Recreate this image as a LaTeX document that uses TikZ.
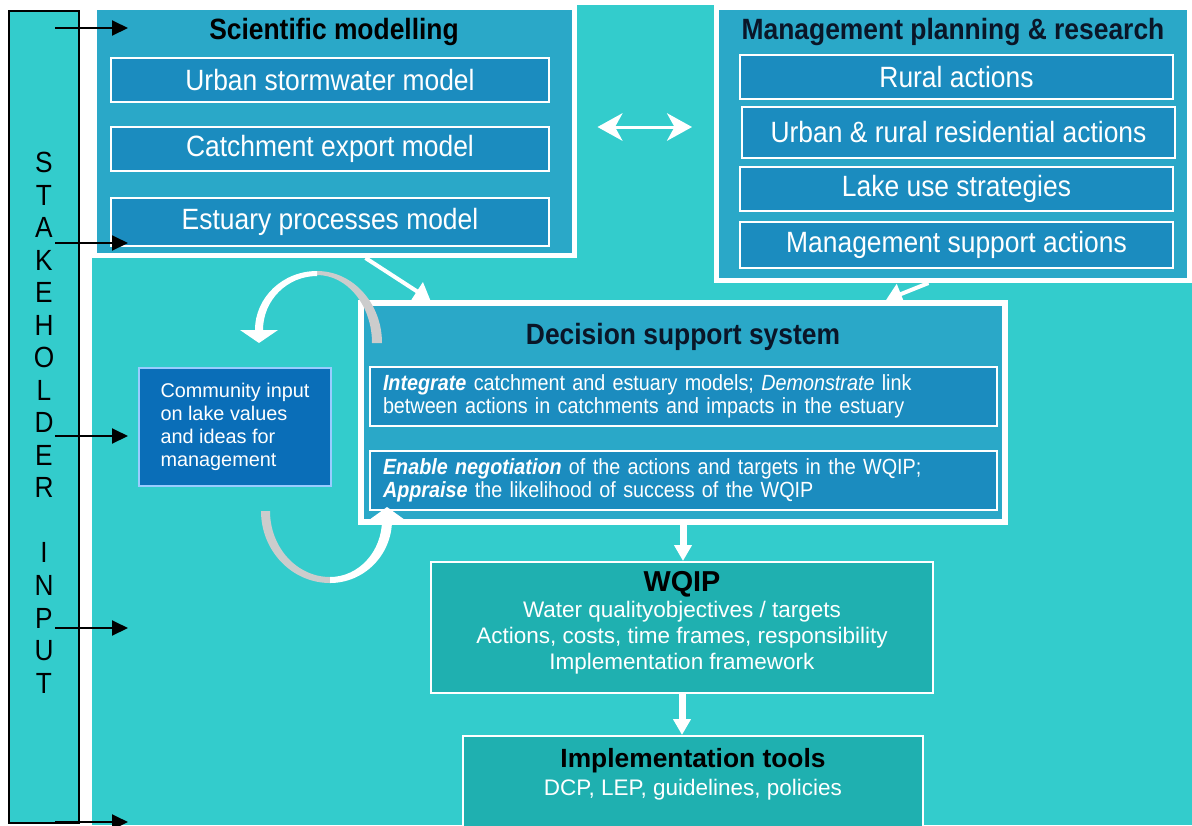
\documentclass[tikz,border=0pt]{standalone}
\usepackage{fontspec}
\setmainfont{Liberation Sans}
\newfontfamily\narrowsans[FakeStretch=0.9]{Liberation Sans}
\usepackage{tikz}
\usetikzlibrary{positioning,arrows.meta}

\definecolor{lagoon}{HTML}{33CCCC}
\definecolor{panelblue}{HTML}{2AA8C8}
\definecolor{tileblue}{HTML}{1B8CBF}
\definecolor{commblue}{HTML}{0A6EB8}
\definecolor{commedge}{HTML}{99CCFF}
\definecolor{planteal}{HTML}{1FB0B0}
\definecolor{titlenavy}{HTML}{0A1628}
\definecolor{ribbongray}{HTML}{CCCCCC}

\begin{document}
\begin{tikzpicture}[
		panel/.style={draw=white,line width=0.1cm,fill=panelblue,inner sep=0pt},
		tile/.style={draw=white,line width=0.035cm,fill=tileblue,text=white,inner sep=0pt,font=\narrowsans\fontsize{16.7}{20}\selectfont},
		note/.style={tile,align=left,text width=12.02cm,inner xsep=0.26cm,minimum height=1.18cm,font=\narrowsans\fontsize{12.5}{13}\selectfont},
		heading/.style={inner sep=0pt,text=titlenavy,font=\narrowsans\bfseries\fontsize{16.7}{20}\selectfont},
		plan/.style={draw=white,line width=0.04cm,fill=planteal,inner sep=0pt},
		plantext/.style={inner sep=0pt,align=center,text=white,font=\fontsize{12.8}{14.7}\selectfont},
		whitearrow/.style={draw=white,line width=0.08cm,-{Triangle[length=0.32cm,width=0.42cm]}},
		downarrow/.style={draw=white,line width=0.14cm,-{Triangle[length=0.32cm,width=0.34cm]}},
		swaparrow/.style={draw=white,line width=0.06cm,{Stealth[length=0.5cm,width=0.55cm,inset=0.15cm]}-{Stealth[length=0.5cm,width=0.55cm,inset=0.15cm]}},
		inputarrow/.style={draw=black,line width=0.04cm,-{Triangle[length=0.32cm,width=0.3cm]}}
	]
	\useasboundingbox (0,0) rectangle (23.84,-16.5);
	\clip (0,0) rectangle (23.84,-16.5);
	\fill[white] (0,0) rectangle (23.84,-16.5);
	\fill[lagoon] (1.84,-0.1) rectangle (23.84,-16.5);

	\node[draw=black,line width=0.04cm,fill=lagoon,minimum width=1.4cm,minimum height=16.24cm,inner sep=0pt] (stake) at (0.88,-8.34) {};
	\node[inner sep=0pt,align=center,font=\narrowsans\fontsize{16.6}{18.5}\selectfont] (stakelabel) at (0.88,-8.455)
		{S\\T\\A\\K\\E\\H\\O\\L\\D\\E\\R\\\mbox{}\\I\\N\\P\\U\\T};

	\node[panel,minimum width=9.6cm,minimum height=4.96cm] (sci) at (6.68,-2.63) {};
	\node[heading,text=black,below=0.25cm of sci.north] (scititle) {Scientific modelling};
	\node[tile,minimum width=8.76cm,minimum height=0.88cm] (urban) at (6.6,-1.6) {Urban stormwater model};
	\node[tile,minimum width=8.76cm,minimum height=0.88cm] (catch) at (6.6,-2.98) {Catchment export model};
	\node[tile,minimum width=8.76cm,minimum height=0.96cm] (estuary) at (6.6,-4.44) {Estuary processes model};

	\node[panel,minimum width=9.46cm,minimum height=5.46cm] (mgmt) at (19.06,-2.88) {};
	\node[heading,below=0.25cm of mgmt.north] (mgmttitle) {Management planning \& research};
	\node[tile,minimum width=8.66cm,minimum height=0.88cm] (rural) at (19.13,-1.54) {Rural actions};
	\node[tile,minimum width=8.66cm,minimum height=1.02cm] (resid) at (19.17,-2.65) {Urban \& rural residential actions};
	\node[tile,minimum width=8.66cm,minimum height=0.88cm] (lakeuse) at (19.13,-3.78) {Lake use strategies};
	\node[tile,minimum width=8.66cm,minimum height=0.92cm] (support) at (19.13,-4.9) {Management support actions};

	\draw[swaparrow,shorten <=0.42cm,shorten >=0.44cm] ([yshift=0.09cm]sci.east) -- ([yshift=0.09cm]sci.east -| mgmt.west);

	\node[panel,line width=0.12cm,minimum width=12.88cm,minimum height=4.38cm] (dss) at (13.66,-8.25) {};
	\node[heading,below=0.45cm of dss.north] (dsstitle) {Decision support system};
	\node[note] (integ) at (13.67,-7.93)
		{\textbf{\textit{Integrate}} catchment and estuary models; \textit{Demonstrate} link\\between actions in catchments and impacts in the estuary};
	\node[note] (negot) at (13.67,-9.61)
		{\textbf{\textit{Enable negotiation}} of the actions and targets in the WQIP;\\\textbf{\textit{Appraise}} the likelihood of success of the WQIP};

	\draw[whitearrow] (sci.-76) -- (dss.156);
	\draw[whitearrow] (mgmt.-100) -- (dss.29);

	\node[draw=commedge,line width=0.04cm,fill=commblue,text=white,align=left,minimum width=3.84cm,minimum height=2.36cm,inner sep=0pt,font=\fontsize{11.3}{13}\selectfont] (comm) at (4.7,-8.54)
		{Community input\\on lake values\\and ideas for\\management};

	\fill[ribbongray] (6.34,-5.42) arc[start angle=90,end angle=0,x radius=1.3,y radius=1.44] -- (7.44,-6.86)
		arc[start angle=0,end angle=90,x radius=1.1,y radius=1.36] -- cycle;
	\fill[white] (6.34,-5.42) arc[start angle=90,end angle=180,x radius=1.24,y radius=1.18] -- (4.8,-6.6) -- (5.18,-6.86) -- (5.56,-6.6) -- (5.26,-6.6)
		arc[start angle=180,end angle=90,x radius=1.08,y radius=1.08] -- cycle;
	\fill[ribbongray] (5.22,-10.22) arc[start angle=180,end angle=270,x radius=1.38,y radius=1.44] -- (6.6,-11.54)
		arc[start angle=270,end angle=180,x radius=1.2,y radius=1.32] -- cycle;
	\fill[white] (6.6,-11.66) arc[start angle=270,end angle=360,x radius=1.24,y radius=1.26] -- (8.1,-10.4) -- (7.74,-10.14) -- (7.38,-10.4) -- (7.64,-10.4)
		arc[start angle=0,end angle=-90,x radius=1.04,y radius=1.14] -- cycle;

	\node[plan,minimum width=10.04cm,minimum height=2.62cm] (wqip) at (13.64,-12.55) {};
	\node[plantext,below=0.21cm of wqip.north] (wqiptext)
		{{\color{black}\bfseries\fontsize{16.4}{14.7}\selectfont WQIP}\\Water qualityobjectives / targets\\Actions, costs, time frames, responsibility\\Implementation framework};
	\node[plan,minimum width=9.2cm,minimum height=2.68cm] (impl) at (13.86,-16.06) {};
	\node[plantext,below=0.26cm of impl.north,font=\fontsize{12.8}{15.9}\selectfont] (impltext)
		{{\color{black}\bfseries\fontsize{15}{15.9}\selectfont Implementation tools}\\DCP, LEP, guidelines, policies};

	\draw[downarrow] (dss.south) -- (dss.south |- wqip.north);
	\draw[downarrow] (wqip.south) -- (wqip.south |- impl.north);

	\foreach \y [count=\i] in {-0.56,-4.86,-8.72,-12.56,-16.44}{
		\coordinate (from\i) at (1.1,\y);
		\coordinate (to\i) at (2.56,\y);
		\draw[inputarrow] (from\i) -- (to\i);
	}
\end{tikzpicture}
\end{document}
